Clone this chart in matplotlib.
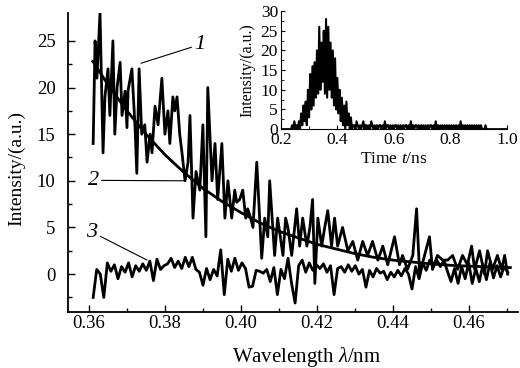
import matplotlib
matplotlib.use("Agg")
import matplotlib.pyplot as plt
import numpy as np

plt.rcParams['font.family'] = ['Liberation Serif', 'DejaVu Serif']
plt.rcParams['mathtext.fontset'] = 'custom'
plt.rcParams['mathtext.rm'] = 'Liberation Serif'
plt.rcParams['mathtext.it'] = 'Liberation Serif:italic'

# curve 1: measured spectrum
wl1 = [0.3611, 0.3616, 0.3621, 0.3629, 0.3637, 0.3642, 0.3650, 0.3655, 0.3663, 0.3668,
       0.3674, 0.3682, 0.3687, 0.3695, 0.3700, 0.3703, 0.3713, 0.3721, 0.3726, 0.3732,
       0.3739, 0.3747, 0.3753, 0.3761, 0.3766, 0.3774, 0.3782, 0.3792, 0.3800, 0.3808,
       0.3813, 0.3821, 0.3826, 0.3832, 0.3839, 0.3845, 0.3853, 0.3861, 0.3866, 0.3874,
       0.3882, 0.3892, 0.3900, 0.3908, 0.3913, 0.3924, 0.3932, 0.3939, 0.3950, 0.3958,
       0.3966, 0.3976, 0.3984, 0.3989, 0.3997, 0.4005, 0.4013, 0.4018, 0.4026, 0.4032,
       0.4042, 0.4055, 0.4063, 0.4071, 0.4076, 0.4089, 0.4097, 0.4111, 0.4118, 0.4124,
       0.4134, 0.4147, 0.4155, 0.4163, 0.4174, 0.4182, 0.4189, 0.4195, 0.4203, 0.4213,
       0.4221, 0.4229, 0.4239, 0.4247, 0.4255, 0.4268, 0.4282, 0.4295, 0.4308, 0.4321,
       0.4334, 0.4347, 0.4361, 0.4374, 0.4387, 0.4405, 0.4418, 0.4426, 0.4439, 0.4453,
       0.4463, 0.4471, 0.4484, 0.4497, 0.4505, 0.4518, 0.4532, 0.4545, 0.4558, 0.4571,
       0.4584, 0.4597, 0.4608, 0.4616, 0.4629, 0.4642, 0.4650, 0.4663, 0.4676, 0.4687,
       0.4695, 0.4703]
int1 = [14, 25, 21, 28, 13, 19, 22, 17, 25, 15,
        20, 22.7, 17, 19.6, 15.7, 19.7, 22, 16, 10.8, 22,
        15, 16, 12, 15, 13, 18, 16, 21, 15, 17.5,
        14, 19, 17.5, 19, 15, 13, 10, 12, 17, 6,
        11, 9, 16, 4, 20, 10, 14, 8, 14, 6,
        10, 6, 9, 7.7, 8, 9, 6, 7, 6, 5,
        12, 1.7, 6, 4, 10, 2, 6, 2, 6, 5,
        2, 7, 3, 6, 3, 5, 8, -1, 6, 3,
        5, 6.8, 3, 6, 3, 5, 2.5, 3.5, 1.5, 3.5,
        2, 3.5, 1.5, 3, 1, 4, 1, 2, 0.5, 2,
        7, 0, 2, 4, 0.5, 2, 1.5, 1.5, 2, 0.5,
        2, 1, 3, 0.5, 2.5, 0, 2.5, 0.5, 2, 0.5,
        2, 0]

# curve 2: fitted decay
wl2 = [0.361, 0.365, 0.370, 0.375, 0.380, 0.385, 0.390, 0.395, 0.400, 0.405, 0.410, 0.415,
       0.420, 0.425, 0.430, 0.435, 0.440, 0.445, 0.450, 0.455, 0.460, 0.465, 0.471]
int2 = [22.8, 20.3, 17.5, 15.0, 12.8, 10.9, 9.2, 7.8, 6.6, 5.5, 4.6, 3.9,
        3.2, 2.7, 2.2, 1.8, 1.5, 1.3, 1.1, 0.95, 0.85, 0.78, 0.7]

# curve 3: background
int3 = [-2.5, 0.5, 0, -2.5, 1.2, 0.3, 1.0, -0.5, 0.8, 0.2, 1.2, -0.3, 0.9, 0.3, 1.1, 0.4,
        1.4, -0.7, 1.6, 0.5, 0.9, 1.1, 1.7, 0.7, 1.4, 0.6, 1.8, 0.8, 1.8, 0.5, 0.2, -1.2,
        0.6, -0.6, 0.5, -0.2, 2.6, -2.2, 1.6, 0.3, 1.7, 0.4, 1.2, 0.6, -1.4, -1.3, 0.4, 0.3,
        0.1, 0.5, -0.8, 0.7, -2.2, 0.5, -0.5, 1.7, -1.0, -3.1, 0.9, 1.5, 0.2, 1.2, 0.4, 1.0,
        0.6, 1.1, 0.2, 0.9, -2.2, 0.6, 0.8, 0.2, 1.0, 0.3, 0.9, 0.0, 0.5, -1.4, 0.4, -0.3,
        0.6, 0.1, 0.3, -0.6, 0.2, -0.3, 0.4, -0.2, 0.6, 0.0, -1.6, 0.8, -0.5, 1.2, 0.4, 1.5,
        0.8, 1.5, 0.8, 1.5, 0.3, -0.8, 0.6, -1.0, 0.8, -0.5, 1.2, -1.0, 0.6, -0.8, 1.0, -0.6,
        1.2, -0.4, 0.9, -0.3, 0.8, 0.2]
wl3 = np.linspace(0.3611, 0.4703, len(int3))

# inset: time trace, 4 ps bins from 0.2 ns to 1.0 ns
t_step = 0.004
inset_counts = [0, 0, 0, 0, 0, 0, 0, 0, 0, 0,
                1, 0, 2, 0, 1, 0, 2, 0,
                4, 1, 6, 2, 7, 1, 10, 3, 14, 5, 16, 6, 17, 8, 20, 9, 26, 10,
                22, 12, 25, 9, 28, 8, 26, 10, 22, 8, 20, 6, 18, 5, 13, 4, 10, 2,
                8, 1, 6, 0, 7, 1, 4, 0, 3, 0, 1,
                1, 0, 2, 1, 0, 1, 0, 1, 2, 0, 1, 1, 0, 1, 0, 2, 1, 0, 1, 0,
                1, 0, 1, 1, 0, 1, 0, 2, 0, 1, 1, 0, 1, 0, 1, 0, 1, 1, 0, 1,
                0, 1, 0, 1, 0, 1, 1, 0, 1, 0, 2, 0, 1, 0, 1, 1, 0, 1, 0, 1,
                0, 1, 0, 1, 0, 1, 0, 1, 1, 0, 1, 0, 2, 0, 1, 0, 1, 0, 1, 0,
                1, 0, 1, 0, 1, 0, 1, 0, 1, 0, 1, 0, 1, 0, 2, 0, 1, 0, 1, 0,
                1, 0, 1, 0, 1, 0, 1, 0, 1, 0, 1, 0, 1, 0, 0, 0, 1, 0, 0, 0,
                0, 0, 0, 0, 0, 0, 0, 0, 0, 0, 0, 0, 0, 0, 0, 0]
t_ns = 0.2 + t_step * np.arange(len(inset_counts))

fig = plt.figure(figsize=(5.2, 3.68), dpi=100)
ax = fig.add_axes([0.131, 0.152, 0.865, 0.813])

ax.plot(wl1, int1, color='black', lw=2.0)
ax.plot(wl2, int2, color='black', lw=2.0)
ax.plot(wl3, int3, color='black', lw=2.0)

ax.set_xlim(0.3545, 0.473)
ax.set_ylim(-4.07, 28)
ax.set_xticks([0.36, 0.38, 0.40, 0.42, 0.44, 0.46])
ax.set_xticks([0.37, 0.39, 0.41, 0.43, 0.45, 0.47], minor=True)
ax.set_xticklabels(['0.36', '0.38', '0.40', '0.42', '0.44', '0.46'])
ax.set_yticks([0, 5, 10, 15, 20, 25])
ax.set_yticks([-2.5, 2.5, 7.5, 12.5, 17.5, 22.5], minor=True)
ax.tick_params(which='both', direction='in', labelsize=13.5, width=1)
ax.tick_params(which='major', length=5)
ax.tick_params(which='minor', length=3)
ax.tick_params(axis='x', pad=2)
ax.tick_params(axis='y', pad=9)
for s in ['top', 'right']:
    ax.spines[s].set_visible(False)
for s in ['left', 'bottom']:
    ax.spines[s].set_linewidth(1.3)
ax.set_xlabel(r'Wavelength $\lambda$/nm', fontsize=15)
ax.set_ylabel('Intensity/(a.u.)', fontsize=14)
ax.xaxis.set_label_coords(0.53, -0.11)
ax.yaxis.set_label_coords(-0.095, 0.48)

kw = dict(arrowprops=dict(arrowstyle='-', color='black', lw=0.8, shrinkA=0, shrinkB=0),
          fontsize=16, fontstyle='italic', ha='center', va='center')
ax.annotate('1', xy=(0.3737, 22.6), xytext=(0.3892, 24.6), **kw)
ax.annotate('2', xy=(0.3853, 10.0), xytext=(0.3611, 10.05), **kw)
ax.annotate('3', xy=(0.3753, 1.5), xytext=(0.3608, 4.5), **kw)

ins = fig.add_axes([0.540, 0.649, 0.435, 0.321])
ins.plot(t_ns, inset_counts, color='black', lw=1.5)
ins.set_xlim(0.2, 1.0)
ins.set_ylim(0, 30)
ins.set_xticks([0.2, 0.4, 0.6, 0.8, 1.0])
ins.set_xticks([0.3, 0.5, 0.7, 0.9], minor=True)
ins.set_xticklabels(['0.2', '0.4', '0.6', '0.8', '1.0'])
ins.set_yticks([0, 5, 10, 15, 20, 25, 30])
ins.set_yticks([2.5, 7.5, 12.5, 17.5, 22.5, 27.5], minor=True)
ins.tick_params(which='both', direction='in', labelsize=12.5, pad=2)
ins.tick_params(which='major', length=3)
ins.tick_params(which='minor', length=2)
for s in ['top', 'right']:
    ins.spines[s].set_visible(False)
ins.set_xlabel(r'Time $t$/ns', fontsize=12.5, labelpad=2)
ins.set_ylabel('Intensity/(a.u.)', fontsize=11.5, labelpad=4)

fig.savefig('out.png', dpi=100)
